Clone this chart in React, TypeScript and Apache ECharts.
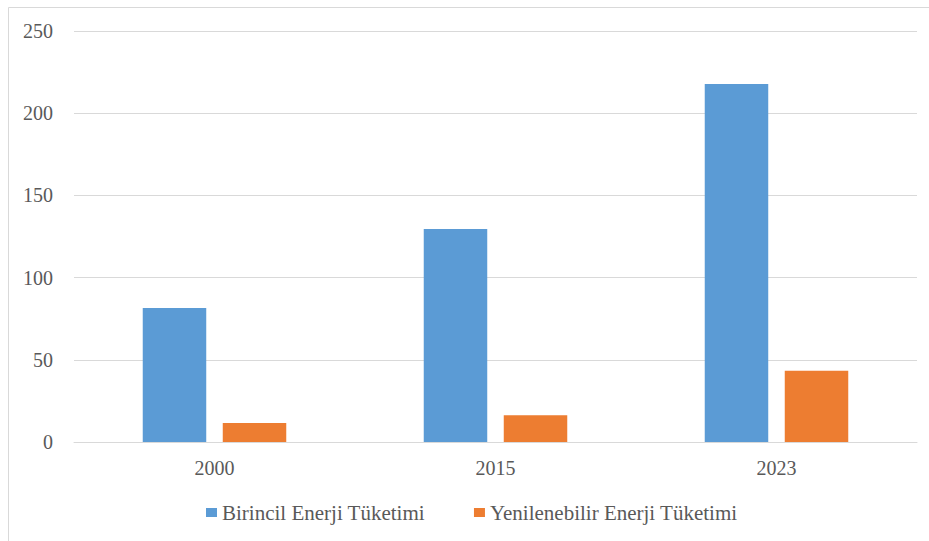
import React, { useEffect, useRef } from "react";
import * as echarts from "echarts";

const years = ["2000", "2015", "2023"];
const birincil = [81.5, 129.6, 217.8];
const yenilenebilir = [11.6, 16.2, 43.4];
const seriesNames = ["Birincil Enerji Tüketimi", "Yenilenebilir Enerji Tüketimi"];

const FONT = "'Liberation Serif', 'Times New Roman', serif";
const TEXT = "#595959";
const GRID = "#d9d9d9";

export default function App() {
  const ref = useRef<HTMLDivElement>(null);

  useEffect(() => {
    if (!ref.current) return;
    const chart = echarts.init(ref.current, null, { renderer: "svg" });
    chart.setOption({
      animation: false,
      backgroundColor: "#ffffff",
      textStyle: { fontFamily: FONT },
      graphic: [
        {
          type: "rect",
          shape: { x: 8.5, y: 7.5, width: 960, height: 580 },
          style: { fill: "none", stroke: GRID, lineWidth: 1 },
          silent: true,
        },
      ],
      grid: { left: 74, right: 12, top: 31, bottom: 99, containLabel: false },
      legend: {
        left: 206,
        top: 502,
        padding: 0,
        icon: "rect",
        itemWidth: 11,
        itemHeight: 9,
        itemGap: 49,
        textStyle: { color: TEXT, fontSize: 21, fontFamily: FONT },
        data: seriesNames,
      },
      xAxis: {
        type: "category",
        data: years,
        axisLine: { show: true, lineStyle: { color: GRID, width: 1 } },
        axisTick: { show: false },
        axisLabel: { color: TEXT, fontSize: 20, fontFamily: FONT, margin: 16 },
      },
      yAxis: {
        type: "value",
        min: 0,
        max: 250,
        interval: 50,
        axisLine: { show: false },
        axisTick: { show: false },
        splitLine: { lineStyle: { color: GRID, width: 1 } },
        axisLabel: { color: TEXT, fontSize: 20, fontFamily: FONT, margin: 21 },
      },
      series: [
        {
          name: seriesNames[0],
          type: "bar",
          data: birincil,
          barWidth: 63.5,
          barGap: "26%",
          itemStyle: { color: "#5B9BD5" },
        },
        {
          name: seriesNames[1],
          type: "bar",
          data: yenilenebilir,
          barWidth: 63.5,
          barGap: "26%",
          itemStyle: { color: "#ED7D31" },
        },
      ],
    });
    return () => chart.dispose();
  }, []);

  return (
    <div
      ref={ref}
      style={{ position: "fixed", left: 0, top: 0, width: 929, height: 541 }}
    />
  );
}
